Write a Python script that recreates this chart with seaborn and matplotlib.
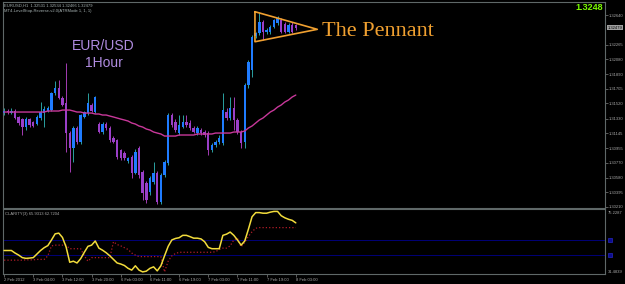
"""EURUSD H1 mit Wimpel (Pennant) und CLARITY-Indikator."""
import numpy as np
import pandas as pd
import matplotlib
matplotlib.use("Agg")
import matplotlib.pyplot as plt
import matplotlib.transforms as mtransforms
import seaborn as sns

# H1-Kerzen, 2 Feb 2012 bis 8 Feb 03:00
opens = [
    1.31399, 1.31425, 1.31399, 1.31425, 1.31349, 1.31323, 1.31222, 1.31323, 1.31285, 1.31260,
    1.31336, 1.31399, 1.31425, 1.31437, 1.31653, 1.31716, 1.31589, 1.31526, 1.31146, 1.30956,
    1.31210, 1.31032, 1.31349, 1.31399, 1.31501, 1.31412, 1.31260, 1.31159, 1.31260, 1.31210,
    1.31083, 1.31058, 1.30931, 1.30893, 1.30792, 1.30842, 1.30640, 1.30956, 1.30652, 1.30513,
    1.30399, 1.30526, 1.30640, 1.30273, 1.30614, 1.30766, 1.31374, 1.31285, 1.31146, 1.31222,
    1.31285, 1.31273, 1.31210, 1.31146, 1.31184, 1.31159, 1.31146, 1.30931, 1.30994, 1.31032,
    1.31020, 1.31412, 1.31336, 1.31463, 1.31311, 1.31159, 1.31032, 1.31754, 1.31944, 1.32374,
    1.32412, 1.32551, 1.32425, 1.32425, 1.32488, 1.32539, 1.32577, 1.32526, 1.32425, 1.32513,
    1.32513,
]
highs = [
    1.31463, 1.31450, 1.31463, 1.31450, 1.31361, 1.31336, 1.31349, 1.31336, 1.31298, 1.31374,
    1.31539, 1.31488, 1.31488, 1.31665, 1.31805, 1.31817, 1.31615, 1.32032, 1.31172, 1.31235,
    1.31235, 1.31387, 1.31425, 1.31653, 1.31526, 1.31615, 1.31285, 1.31285, 1.31285, 1.31235,
    1.31108, 1.31070, 1.30944, 1.30918, 1.30842, 1.30868, 1.30944, 1.30982, 1.30678, 1.30539,
    1.30602, 1.30779, 1.30665, 1.30640, 1.30804, 1.31399, 1.31399, 1.31323, 1.31374, 1.31374,
    1.31374, 1.31311, 1.31235, 1.31235, 1.31210, 1.31184, 1.31172, 1.31020, 1.31058, 1.31121,
    1.31653, 1.31463, 1.31602, 1.31602, 1.31336, 1.31184, 1.31779, 1.32070, 1.32387, 1.32425,
    1.32678, 1.32577, 1.32476, 1.32513, 1.32589, 1.32627, 1.32602, 1.32551, 1.32539, 1.32551,
    1.32526,
]
lows = [
    1.31374, 1.31387, 1.31387, 1.31323, 1.31247, 1.31121, 1.31184, 1.31222, 1.31222, 1.31247,
    1.31311, 1.31222, 1.31412, 1.31425, 1.31627, 1.31577, 1.31488, 1.30906, 1.30652, 1.30779,
    1.31007, 1.31007, 1.31336, 1.31374, 1.31412, 1.31399, 1.31146, 1.31134, 1.31184, 1.31032,
    1.31020, 1.30817, 1.30804, 1.30804, 1.30766, 1.30577, 1.30627, 1.30577, 1.30298, 1.30260,
    1.30361, 1.30501, 1.30247, 1.30247, 1.30589, 1.30741, 1.31222, 1.31159, 1.31121, 1.31210,
    1.31222, 1.31184, 1.31146, 1.31121, 1.31121, 1.31096, 1.30868, 1.30906, 1.30969, 1.31007,
    1.30994, 1.31311, 1.31311, 1.31184, 1.31134, 1.30956, 1.30956, 1.31716, 1.31855, 1.32349,
    1.32387, 1.32324, 1.32400, 1.32400, 1.32476, 1.32513, 1.32412, 1.32412, 1.32412, 1.32412,
    1.32450,
]
closes = [
    1.31425, 1.31412, 1.31425, 1.31336, 1.31273, 1.31222, 1.31323, 1.31247, 1.31235, 1.31349,
    1.31412, 1.31450, 1.31463, 1.31653, 1.31716, 1.31589, 1.31501, 1.31146, 1.30956, 1.31210,
    1.31032, 1.31374, 1.31412, 1.31526, 1.31425, 1.31602, 1.31159, 1.31260, 1.31210, 1.31058,
    1.31032, 1.30842, 1.30830, 1.30830, 1.30830, 1.30640, 1.30906, 1.30614, 1.30387, 1.30298,
    1.30577, 1.30640, 1.30273, 1.30614, 1.30779, 1.31374, 1.31247, 1.31184, 1.31247, 1.31285,
    1.31247, 1.31210, 1.31159, 1.31210, 1.31146, 1.31121, 1.30931, 1.30994, 1.31032, 1.31083,
    1.31437, 1.31336, 1.31463, 1.31311, 1.31159, 1.31020, 1.31754, 1.32045, 1.32362, 1.32412,
    1.32551, 1.32425, 1.32450, 1.32488, 1.32577, 1.32602, 1.32425, 1.32425, 1.32513, 1.32425,
    1.32476,
]
ma = [
    1.31412, 1.31412, 1.31412, 1.31412, 1.31412, 1.31412, 1.31412, 1.31412, 1.31412, 1.31412,
    1.31412, 1.31412, 1.31425, 1.31425, 1.31425, 1.31425, 1.31437, 1.31437, 1.31437, 1.31425,
    1.31412, 1.31412, 1.31399, 1.31399, 1.31399, 1.31387, 1.31387, 1.31374, 1.31374, 1.31361,
    1.31349, 1.31336, 1.31323, 1.31311, 1.31298, 1.31273, 1.31260, 1.31235, 1.31222, 1.31197,
    1.31184, 1.31159, 1.31146, 1.31134, 1.31108, 1.31108, 1.31108, 1.31108, 1.31121, 1.31121,
    1.31121, 1.31121, 1.31121, 1.31134, 1.31134, 1.31134, 1.31134, 1.31134, 1.31146, 1.31146,
    1.31146, 1.31146, 1.31146, 1.31159, 1.31159, 1.31159, 1.31172, 1.31210, 1.31235, 1.31273,
    1.31311, 1.31336, 1.31374, 1.31412, 1.31437, 1.31475, 1.31501, 1.31539, 1.31564, 1.31602,
    1.31627,
]
clarity = [
    47.3, 47.3, 47.3, 45.6, 44.2, 42.5, 42.0, 42.2, 42.5, 44.9,
    47.3, 49.2, 50.6, 54.4, 58.5, 59.0, 56.1, 49.7, 39.4, 40.1,
    38.9, 41.8, 46.1, 50.1, 50.9, 53.7, 48.9, 47.5, 45.8, 43.7,
    41.3, 38.9, 38.2, 37.2, 35.3, 34.1, 37.0, 34.1, 32.9, 33.4,
    35.3, 36.3, 33.6, 37.0, 43.7, 50.1, 54.4, 55.4, 55.9, 57.5,
    57.5, 56.6, 55.6, 55.6, 55.1, 53.2, 49.4, 48.5, 48.5, 48.5,
    57.5, 58.3, 59.7, 57.5, 54.4, 50.9, 53.7, 61.6, 70.0, 72.8,
    72.8, 72.4, 72.4, 73.1, 73.6, 73.6, 70.7, 69.3, 68.3, 67.6,
    65.9,
]
clarity_signal = [
    40.8, 40.8, 40.8, 40.8, 40.8, 40.8, 41.0, 41.0, 41.0, 41.3,
    41.3, 41.3, 43.7, 50.4, 50.9, 50.9, 50.9, 50.9, 48.5, 48.5,
    48.5, 48.5, 43.7, 40.1, 42.5, 42.5, 42.5, 42.5, 42.5, 42.5,
    53.2, 51.3, 50.4, 49.2, 48.0, 45.6, 44.2, 43.2, 43.2, 43.2,
    43.2, 43.2, 43.2, 43.2, 32.9, 40.1, 43.7, 45.3, 46.1, 46.1,
    46.1, 46.1, 46.1, 46.1, 46.1, 46.1, 46.1, 46.1, 46.5, 48.0,
    48.9, 48.9, 50.4, 54.4, 55.6, 49.7, 52.8, 56.8, 59.9, 62.3,
    62.7, 62.7, 62.7, 62.7, 62.7, 62.7, 62.7, 62.7, 62.7, 62.7,
    62.7,
]
clarity_levels = [54.5, 44.5]

time_labels = ["2 Feb 2012", "3 Feb 04:00", "3 Feb 12:00", "3 Feb 20:00", "6 Feb 03:00",
               "6 Feb 11:00", "6 Feb 19:00", "7 Feb 03:00", "7 Feb 11:00", "7 Feb 19:00",
               "8 Feb 03:00"]
label_bars = [0, 8, 16, 24, 32, 40, 48, 56, 64, 72, 80]
# 1.32455 liegt unter dem Kurskasten und wird nicht beschriftet
price_ticks = [1.32640, 1.32265, 1.32080, 1.31890, 1.31705, 1.31520, 1.31330,
               1.31145, 1.30955, 1.30770, 1.30580, 1.30395, 1.30210]
last_price = 1.32479

# Wimpel: senkrechte Kante und Spitze
pennant_bar, pennant_top, pennant_bottom = 68.8, 1.32682, 1.32302
pennant_tip_bar, pennant_tip = 85.9, 1.32459

sns.set_theme(style="ticks", rc={
    "axes.facecolor": "black", "figure.facecolor": "black",
    "savefig.facecolor": "black", "axes.edgecolor": "#5f6868",
    "axes.linewidth": 0.8,
})
plt.rcParams["font.family"] = ["Liberation Sans", "DejaVu Sans"]

df = pd.DataFrame({"bar": np.arange(len(closes)), "open": opens, "high": highs,
                   "low": lows, "close": closes, "ma": ma,
                   "clarity": clarity, "signal": clarity_signal})

fig = plt.figure(figsize=(6.25, 2.84), dpi=100)
ax = fig.add_axes([3 / 625, 76 / 284, 602 / 625, 206 / 284])
ax2 = fig.add_axes([3 / 625, 10 / 284, 602 / 625, 65 / 284])

# Kerzen
up = df.close >= df.open
body_lo = df[["open", "close"]].min(axis=1)
body_h = (df.close - df.open).abs().clip(lower=0.00009)
for mask, body_col, wick_col in [(up, "#1f7cff", "#2aa0a0"), (~up, "#9a3fc8", "#a43cb4")]:
    d = df[mask]
    ax.vlines(d.bar, d.low, d.high, color=wick_col, lw=0.7, zorder=2)
    ax.bar(d.bar, body_h[mask], bottom=body_lo[mask], width=0.66,
           color=body_col, lw=0, zorder=3)
sns.lineplot(data=df, x="bar", y="ma", ax=ax, color="#c8389a", lw=1.0, zorder=4)

ax.plot([pennant_bar, pennant_tip_bar, pennant_bar, pennant_bar],
        [pennant_top, pennant_tip, pennant_bottom, pennant_top],
        color="#f0a030", lw=1.2, zorder=5)
ax.text(87.2, 1.32378, "The Pennant", family="Liberation Serif", fontsize=16,
        color="#f0a030", va="baseline", ha="left")

ax.set_xlim(-0.3, 164.8)
ax.set_ylim(1.30197, 1.32805)
ax.set_xlabel("")
ax.set_ylabel("")
ax.tick_params(axis="x", bottom=False, labelbottom=False)
ax.yaxis.tick_right()
ax.set_yticks(price_ticks)
ax.set_yticklabels([f"{v:.5f}" for v in price_ticks])
ax.tick_params(axis="y", right=True, length=2, width=0.5, color="#808080",
               labelsize=3, labelcolor="#a8a8a8", pad=1)

trans = mtransforms.blended_transform_factory(ax.transAxes, ax.transData)
ax.text(1.004, last_price, f"{last_price:.5f}", transform=trans, fontsize=3,
        color="black", va="center", ha="left", zorder=10,
        bbox=dict(boxstyle="square,pad=0.15", fc="#a0a0a0", ec="none"))
ax.text(0.9967, 0.971, "1.3248", transform=ax.transAxes, fontsize=6.5,
        fontweight="bold", color="#7cfc00", ha="right", va="center")
ax.text(0.167, 0.767, "EUR/USD", transform=ax.transAxes, fontsize=10,
        color="#b08ce0", ha="center", va="baseline")
ax.text(0.167, 0.684, "1Hour", transform=ax.transAxes, fontsize=10,
        color="#b08ce0", ha="center", va="baseline")
ax.text(0.002, 0.985, "EURUSD,H1  1.32531 1.32534 1.32466 1.32479",
        transform=ax.transAxes, fontsize=3, color="#a8b4b4", va="center")
ax.text(0.002, 0.956, "MT4-LevelStop-Reverse-v2.0(ATRMode 1, 1, 1)",
        transform=ax.transAxes, fontsize=3, color="#a8b4b4", va="center")

# Unteres Fenster: CLARITY
for lvl in clarity_levels:
    ax2.axhline(lvl, color="#000078", lw=0.7, zorder=1)
    ax2.plot([1.0075], [lvl], marker="s", ms=3.5, mfc="#0c0c90", mec="#2828c0",
             mew=0.5, clip_on=False,
             transform=mtransforms.blended_transform_factory(ax2.transAxes, ax2.transData))
sns.lineplot(data=df, x="bar", y="signal", ax=ax2, color="#b01c28", lw=0.9,
             linestyle=":", zorder=2)
sns.lineplot(data=df, x="bar", y="clarity", ax=ax2, color="#f2dc3c", lw=1.1, zorder=3)
ax2.set_xlim(-0.3, 164.8)
ax2.set_ylim(31.4839, 75.2287)
ax2.set_xlabel("")
ax2.set_ylabel("")
ax2.set_yticks([])
ax2.set_xticks(label_bars)
ax2.set_xticklabels(time_labels, ha="left")
ax2.tick_params(axis="x", length=2, width=0.5, color="#808080", labelsize=3,
                labelcolor="#a8a8a8", pad=1)
ax2.text(0.003, 0.92, "CLARITY(3) 65.9313 62.7204", transform=ax2.transAxes,
         fontsize=3, color="#a8a8a8", va="center")
ax2.text(1.005, 0.94, "75.2287", transform=ax2.transAxes, fontsize=3,
         color="#a8a8a8", va="center")
ax2.text(1.005, 0.03, "31.4839", transform=ax2.transAxes, fontsize=3,
         color="#a8a8a8", va="center")

fig.savefig("out.png", dpi=100)
